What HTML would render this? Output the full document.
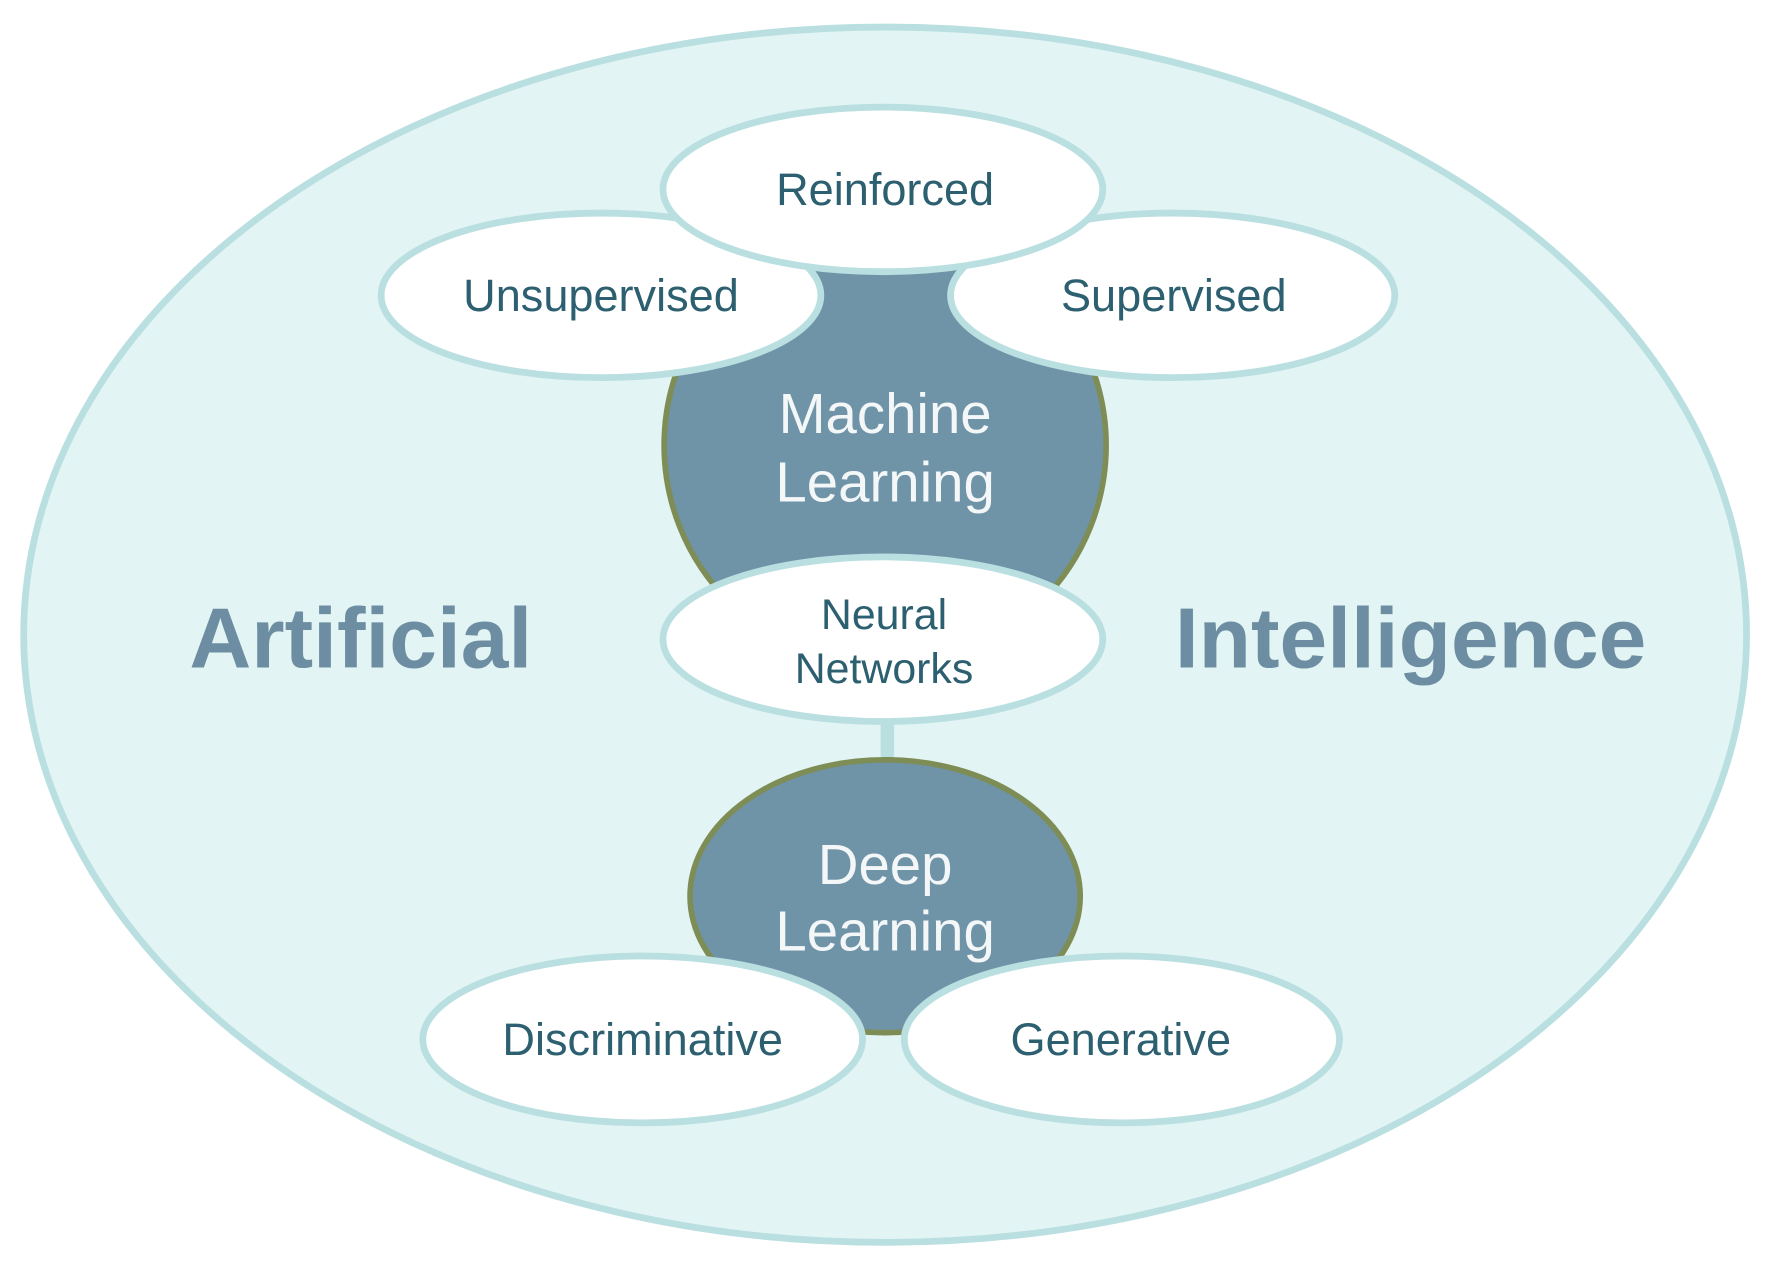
<!DOCTYPE html>
<html><head><meta charset="utf-8"><style>
html,body{margin:0;padding:0;background:#fff;}
svg{display:block}
text{font-family:"Liberation Sans",sans-serif;text-anchor:middle}
</style></head><body>
<svg width="1768" height="1266" viewBox="0 0 1568 1123" preserveAspectRatio="none" xmlns="http://www.w3.org/2000/svg">
<rect width="1568" height="1123" fill="#fff"/>
<ellipse cx="785" cy="563" rx="764" ry="539" fill="#e2f4f4" stroke="#b9dfe1" stroke-width="6"/>
<line x1="787" y1="630" x2="787" y2="690" stroke="#b9dfe1" stroke-width="12"/>
<circle cx="785" cy="395" r="196" fill="#6f93a7" stroke="#7e8d55" stroke-width="5"/>
<ellipse cx="785" cy="795" rx="173" ry="121" fill="#6f93a7" stroke="#7e8d55" stroke-width="5"/>
<g fill="#fff" stroke="#b9dfe1" stroke-width="6">
<ellipse cx="533" cy="262" rx="195" ry="73"/>
<ellipse cx="1040" cy="262" rx="197" ry="73"/>
<ellipse cx="783" cy="168" rx="195" ry="73"/>
<ellipse cx="783" cy="567" rx="195" ry="73"/>
<ellipse cx="570" cy="922" rx="195" ry="74"/>
<ellipse cx="995" cy="922" rx="193" ry="74"/>
</g>
<g fill="#2c5f6f" font-size="40">
<text x="785" y="182">Reinforced</text>
<text x="533" y="276">Unsupervised</text>
<text x="1041" y="276">Supervised</text>
<text x="784" y="558" font-size="38">Neural</text>
<text x="784" y="606" font-size="38">Networks</text>
<text x="570" y="936">Discriminative</text>
<text x="994" y="936">Generative</text>
</g>
<g fill="#f4f7f8" font-size="50">
<text x="785" y="384">Machine</text>
<text x="785" y="445">Learning</text>
<text x="785" y="784">Deep</text>
<text x="785" y="843">Learning</text>
</g>
<g fill="#6d8ea2" font-size="76" font-weight="bold">
<text x="320" y="592">Artificial</text>
<text x="1251" y="592">Intelligence</text>
</g>
</svg>
</body></html>
